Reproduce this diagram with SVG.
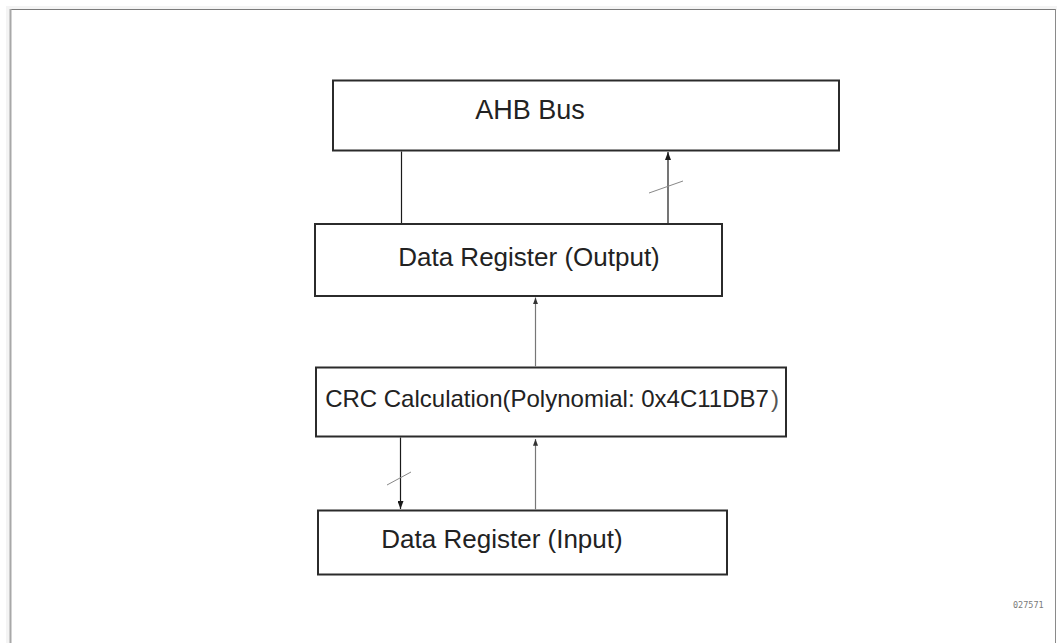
<svg xmlns="http://www.w3.org/2000/svg" width="1057" height="643" viewBox="0 0 1057 643">
  <defs>
    <marker id="arrow" viewBox="0 0 8 6" refX="8" refY="3" markerWidth="8" markerHeight="6" markerUnits="userSpaceOnUse" orient="auto">
      <path d="M0,0 L8,3 L0,6 Z" fill="#1a1a1a"/>
    </marker>
    <marker id="arrowGray" viewBox="0 0 8 6" refX="8" refY="3" markerWidth="7" markerHeight="5" markerUnits="userSpaceOnUse" orient="auto">
      <path d="M0,0 L8,3 L0,6 Z" fill="#333"/>
    </marker>
  </defs>
  <style>
    .box { fill: #ffffff; stroke: #2b2b2b; stroke-width: 2; }
    .label { font-family: "Liberation Sans", Arial, sans-serif; fill: #222; text-anchor: middle; }
    .wire { stroke: #1a1a1a; stroke-width: 1.2; fill: none; }
    .wireLight { stroke: #777; stroke-width: 1.2; fill: none; }
    .tick { stroke: #888; stroke-width: 1; fill: none; }
  </style>

  <!-- page -->
  <rect x="0" y="0" width="1057" height="643" fill="#ffffff"/>
  <rect x="6" y="6" width="1051" height="4" fill="#f4f4f4"/>
  <rect x="6" y="6" width="4" height="637" fill="#f4f4f4"/>
  <line x1="10" y1="9.5" x2="1055.5" y2="9.5" stroke="#7a7a7a" stroke-width="1"/>
  <line x1="10.5" y1="9" x2="10.5" y2="643" stroke="#a8a8a8" stroke-width="2"/>
  <line x1="1055.5" y1="9" x2="1055.5" y2="643" stroke="#8a8a8a" stroke-width="1"/>

  <!-- nodes -->
  <g id="ahb-bus">
    <rect class="box" x="333" y="80.5" width="506" height="70"/>
    <text class="label" x="530" y="119" font-size="27">AHB Bus</text>
  </g>

  <g id="data-register-output">
    <rect class="box" x="315" y="224" width="407" height="72"/>
    <text class="label" x="529" y="266" font-size="26">Data Register (Output)</text>
  </g>

  <g id="crc-calculation">
    <rect class="box" x="316" y="367.5" width="470" height="69"/>
    <text class="label" x="552" y="407" font-size="24">CRC Calculation(Polynomial: 0x4C11DB7<tspan dx="2" fill="#555">)</tspan></text>
  </g>

  <g id="data-register-input">
    <rect class="box" x="318" y="510.5" width="409" height="64"/>
    <text class="label" x="502" y="548" font-size="26">Data Register (Input)</text>
  </g>

  <!-- connectors -->
  <g id="connectors">
    <!-- AHB bus down to output register -->
    <line class="wire" x1="401.5" y1="151.5" x2="401.5" y2="223"/>
    <!-- output register up to AHB bus -->
    <line class="wire" x1="668" y1="223" x2="668" y2="152" marker-end="url(#arrow)"/>
    <line class="tick" x1="649" y1="193" x2="683" y2="181"/>
    <!-- CRC result to output register -->
    <line class="wireLight" x1="535.5" y1="366.5" x2="535.5" y2="297.5" marker-end="url(#arrowGray)"/>
    <!-- CRC down to input register -->
    <line class="wire" x1="400.5" y1="437.5" x2="400.5" y2="509" marker-end="url(#arrow)"/>
    <line class="tick" x1="387" y1="485" x2="411" y2="472"/>
    <!-- input register up to CRC -->
    <line class="wireLight" x1="535.5" y1="509.5" x2="535.5" y2="439" marker-end="url(#arrowGray)"/>
  </g>

  <text x="1013" y="608" font-family="'DejaVu Sans Mono', monospace" font-size="8.5" fill="#7a7a7a">027571</text>
</svg>
